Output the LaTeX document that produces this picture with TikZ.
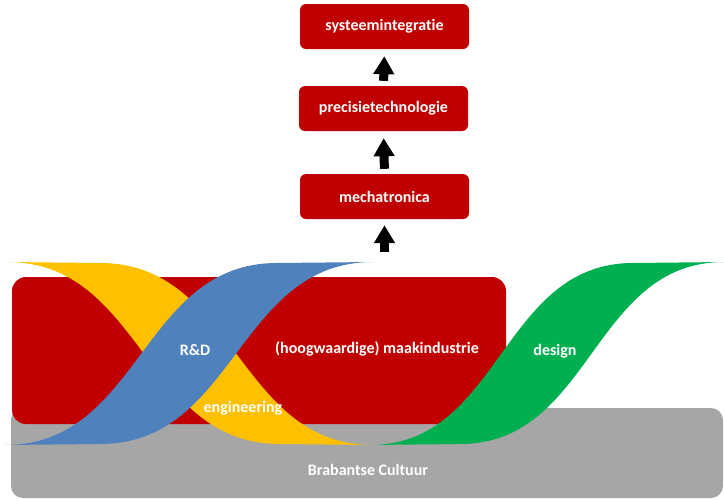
\documentclass[tikz,border=0pt]{standalone}
\usepackage{fontspec}
\setmainfont[Ligatures=NoCommon]{Carlito}
\usetikzlibrary{arrows.meta}
\definecolor{boxred}{HTML}{C00000}
\definecolor{culgray}{HTML}{A6A6A6}
\definecolor{engyellow}{HTML}{FFC000}
\definecolor{rdblue}{HTML}{4F81BD}
\definecolor{desgreen}{HTML}{00B050}
\tikzset{
  level/.style = {fill=boxred, rounded corners=6pt, minimum width=169pt,
                  minimum height=45pt, text=white,
                  font=\bfseries\fontsize{16}{18}\selectfont},
  plate/.style = {rounded corners=14pt, inner sep=0pt},
  tag/.style   = {text=white, font=\bfseries\fontsize{16}{18}\selectfont},
  lift/.style  = {-{Triangle[width=20pt, length=18pt]}, line width=9pt,
                  shorten >=7pt, shorten <=5pt}
}

\begin{document}
\begin{tikzpicture}[x=1pt, y=-1pt]
\useasboundingbox (0,0) rectangle (724,499);
% ground layers
\node[plate, fill=culgray, minimum width=712pt, minimum height=90pt,
      rounded corners=12pt]                    at (367  ,453  ) (cult) {};
\node[plate, fill=boxred, minimum width=494pt,
      minimum height=147pt]                    at (259  ,350.5) (maak) {};

% ribbons
\fill[engyellow] (7,262) -- (100,263) .. controls (236,263) and (237,445) .. (373,445)
      -- (280,444) .. controls (144,444) and (143,262) .. cycle;
\fill[rdblue] (5,445) -- (100,444) .. controls (236,444) and (237,262) .. (373,262)
      -- (277,263) .. controls (141,263) and (141,445) .. cycle;
\fill[desgreen] (370,445) -- (460,444) .. controls (592,444) and (592,262) .. (724,262)
      -- (633,263) .. controls (501,263) and (501,445) .. cycle;

\node[tag] at (195,350) (rd)      {R\&D};
\node[tag] at (377,349) (maaklbl) {(hoogwaardige) maakindustrie};
\node[tag] at (243,408) (eng)     {engineering};
\node[tag] at (555,351) (des)     {design};
\node[tag] at (368,470) (cultlbl) {Brabantse Cultuur};

% stack of disciplines
\node[level] at (384.5, 26.5) (sys)  {systeemintegratie};
\node[level] at (383.5,108.5) (prec) {precisietechnologie};
\node[level] at (384.5,196.5) (mech) {mechatronica};
\coordinate (feed) at (384.5,252);

\draw[lift] (prec.north) -- (sys.south);
\draw[lift] (mech.north) -- (prec.south);
\draw[lift, shorten <=0pt, shorten >=6pt] (feed) -- (mech.south);
\end{tikzpicture}
\end{document}
